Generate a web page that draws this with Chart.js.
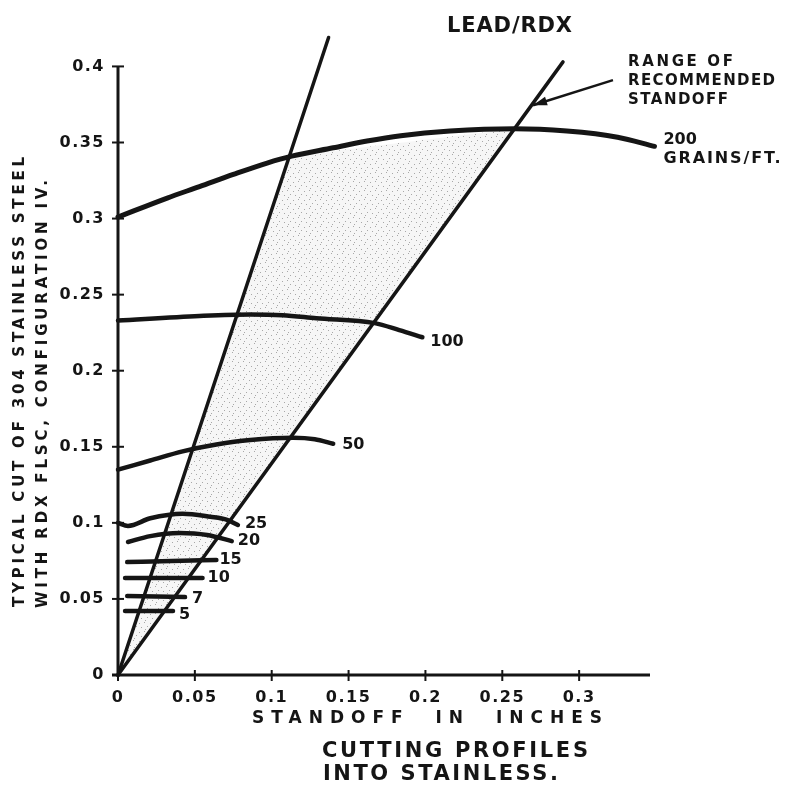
<!DOCTYPE html>
<html><head><meta charset="utf-8">
<script src="https://cdn.jsdelivr.net/npm/chart.js@4/dist/chart.umd.min.js"></script>
<style>html,body{margin:0;padding:0;background:#fff;}canvas{display:block}</style>
</head><body>
<canvas id="c" width="786" height="794"></canvas>
<script>
// ---- data ----
const xTicks = [0, 0.05, 0.1, 0.15, 0.2, 0.25, 0.3];
const yTicks = [0, 0.05, 0.1, 0.15, 0.2, 0.25, 0.3, 0.35, 0.4];

const curveLabels = ['200', '100', '50', '25', '20', '15', '10', '7', '5'];
const g200X = [0, 0.032, 0.053, 0.075, 0.097, 0.113, 0.140, 0.162, 0.184, 0.216, 0.258, 0.292, 0.325, 0.349];
const g200Y = [0.301, 0.3135, 0.321, 0.329, 0.3365, 0.341, 0.3465, 0.351, 0.3545, 0.3575, 0.359, 0.3575, 0.3535, 0.3475];
const g100X = [0, 0.053, 0.086, 0.107, 0.129, 0.167, 0.183, 0.198];
const g100Y = [0.233, 0.236, 0.237, 0.2365, 0.2345, 0.2313, 0.2267, 0.222];
const g50X = [0, 0.021, 0.042, 0.064, 0.086, 0.114, 0.128, 0.140];
const g50Y = [0.135, 0.141, 0.147, 0.1515, 0.1545, 0.156, 0.155, 0.152];
const g25X = [0, 0.0065, 0.021, 0.042, 0.060, 0.071, 0.078];
const g25Y = [0.100, 0.098, 0.103, 0.106, 0.104, 0.102, 0.0986];
const g20X = [0.0065, 0.021, 0.040, 0.058, 0.074];
const g20Y = [0.0874, 0.0913, 0.0933, 0.092, 0.088];
const g15X = [0.006, 0.035, 0.064];
const g15Y = [0.0742, 0.075, 0.0756];
const g10X = [0.0046, 0.055];
const g10Y = [0.0637, 0.0637];
const g7X = [0.006, 0.0436];
const g7Y = [0.0519, 0.0512];
const g5X = [0.0046, 0.0358];
const g5Y = [0.042, 0.042];

// bounds of recommended standoff range
const line1X = [0, 0.137];
const line1Y = [0, 0.419];
const line2X = [0, 0.2895];
const line2Y = [0, 0.403];
const shadeX = [0, 0.112, 0.258, 0];
const shadeY = [0, 0.341, 0.359, 0];
const arrowX = [0.322, 0.270];
const arrowY = [0.391, 0.3745];

// ---- styling / layout ----
const FONT = '"DejaVu Sans", sans-serif';
const INK = '#151515';
const pts = (xs, ys) => xs.map((x, i) => ({x, y: ys[i]}));
const fmt = v => v === 0 ? '0' : String(+v.toFixed(2));

const canvas = document.getElementById('c');
const ctx0 = canvas.getContext('2d');
function stipple() {
  const c = document.createElement('canvas'); c.width = 11; c.height = 9;
  const g = c.getContext('2d');
  g.fillStyle = 'rgba(0,0,0,0.035)'; g.fillRect(0, 0, 11, 9);
  g.fillStyle = 'rgba(70,70,70,0.45)';
  [[1,1],[7,2],[4,5],[9,6],[2,8]].forEach(([a,b]) => g.fillRect(a, b, 1, 1));
  return ctx0.createPattern(c, 'repeat');
}

const curveSeries = [
  [g200X, g200Y], [g100X, g100Y], [g50X, g50Y], [g25X, g25Y], [g20X, g20Y],
  [g15X, g15Y], [g10X, g10Y], [g7X, g7Y], [g5X, g5Y]
];
// label offsets in px from the end of each curve
const labelOffsets = {'200':[9,-6], '100':[8,5], '50':[9,1], '25':[7,-1], '20':[6,0], '15':[3,0], '10':[5,0], '7':[7,2], '5':[6,4]};

const datasets = [];
curveSeries.forEach(([xs, ys], i) => datasets.push({
  label: curveLabels[i], data: pts(xs, ys), borderColor: INK, borderWidth: i === 0 ? 5 : 4.5,
  cubicInterpolationMode: 'monotone', pointRadius: 0, fill: false, clip: false, borderCapStyle: 'round'
}));
datasets.push({label: 'lo', data: pts(line1X, line1Y), borderColor: INK, borderWidth: 3.5, pointRadius: 0, fill: false, clip: false, borderCapStyle: 'round'});
datasets.push({label: 'hi', data: pts(line2X, line2Y), borderColor: INK, borderWidth: 3.5, pointRadius: 0, fill: false, clip: false, borderCapStyle: 'round'});
datasets.push({label: 'arrow', data: pts(arrowX, arrowY), borderColor: INK, borderWidth: 2.5, pointRadius: 0, fill: false, clip: false});
datasets.push({label: 'shade', data: pts(shadeX, shadeY), borderWidth: 0, borderColor: 'rgba(0,0,0,0)', backgroundColor: stipple(), pointRadius: 0, fill: 'shape', tension: 0});

function spaced(ctx, text, x, y, size, width) {
  ctx.font = `bold ${size}px ${FONT}`;
  ctx.letterSpacing = '0px';
  const w = ctx.measureText(text).width;
  const ls = width ? (width - w) / (text.length - 1) : 0;
  ctx.letterSpacing = ls + 'px';
  ctx.textAlign = 'left'; ctx.textBaseline = 'middle';
  ctx.fillText(text, x, y);
  ctx.letterSpacing = '0px';
}

const decor = {
  id: 'decor',
  beforeDraw(chart) { chart.ctx.letterSpacing = '1.5px'; },
  afterDatasetsDraw(chart) {
    const {ctx, scales: {x, y}} = chart;
    const X = v => x.getPixelForValue(v), Y = v => y.getPixelForValue(v);
    ctx.save();
    ctx.strokeStyle = INK; ctx.fillStyle = INK;
    // axes
    ctx.lineWidth = 3;
    ctx.beginPath(); ctx.moveTo(X(0), Y(0) + 2); ctx.lineTo(X(0), Y(yTicks[yTicks.length - 1])); ctx.stroke();
    ctx.beginPath(); ctx.moveTo(X(0) - 6, Y(0)); ctx.lineTo(x.right - 6, Y(0)); ctx.stroke();
    ctx.lineWidth = 2;
    yTicks.forEach(v => { ctx.beginPath(); ctx.moveTo(X(0) - 6, Y(v)); ctx.lineTo(X(0) + 6, Y(v)); ctx.stroke(); });
    xTicks.forEach(v => { ctx.beginPath(); ctx.moveTo(X(v), Y(0) - 5); ctx.lineTo(X(v), Y(0) + 6); ctx.stroke(); });
    // arrow head
    const hx = X(arrowX[1]), hy = Y(arrowY[1]);
    const ang = Math.atan2(hy - Y(arrowY[0]), hx - X(arrowX[0]));
    ctx.beginPath();
    ctx.moveTo(hx, hy);
    ctx.lineTo(hx - 14 * Math.cos(ang) + 4.5 * Math.sin(ang), hy - 14 * Math.sin(ang) - 4.5 * Math.cos(ang));
    ctx.lineTo(hx - 14 * Math.cos(ang) - 4.5 * Math.sin(ang), hy - 14 * Math.sin(ang) + 4.5 * Math.cos(ang));
    ctx.closePath(); ctx.fill();
    // curve labels
    curveSeries.forEach(([xs, ys], i) => {
      const lab = curveLabels[i];
      const px = X(xs[xs.length - 1]), py = Y(ys[ys.length - 1]);
      const [dx, dy] = labelOffsets[lab];
      spaced(ctx, lab, px + dx, py + dy, 16, 0);
      if (lab === '200') spaced(ctx, 'GRAINS/FT.', px + dx, py + dy + 19, 16, 117);
    });
    // titles & notes
    spaced(ctx, 'LEAD/RDX', 447, 27, 21, 125);
    spaced(ctx, 'RANGE OF', 628, 62, 15, 105);
    spaced(ctx, 'RECOMMENDED', 628, 81, 15, 147);
    spaced(ctx, 'STANDOFF', 628, 100, 15, 100);
    spaced(ctx, 'STANDOFF  IN  INCHES', 252, 719, 17, 350);
    spaced(ctx, 'CUTTING PROFILES', 322, 752, 21, 266);
    spaced(ctx, 'INTO STAINLESS.', 323, 775, 21, 235);
    // y axis title
    ctx.save(); ctx.translate(20, 382); ctx.rotate(-Math.PI / 2);
    spaced(ctx, 'TYPICAL CUT OF 304 STAINLESS STEEL', -225, 0, 15, 450);
    ctx.restore();
    ctx.save(); ctx.translate(43, 394); ctx.rotate(-Math.PI / 2);
    spaced(ctx, 'WITH RDX FLSC, CONFIGURATION IV.', -214, 0, 15, 428);
    ctx.restore();
    ctx.restore();
    ctx.letterSpacing = '1.5px';
  }
};

const tickFont = {family: FONT, size: 16, weight: 'bold'};
new Chart(canvas, {
  type: 'line',
  data: {datasets},
  options: {
    responsive: false, animation: false, devicePixelRatio: 1,
    layout: {padding: {left: 0, right: 130, top: 36, bottom: 0}},
    plugins: {legend: {display: false}, tooltip: {enabled: false}},
    scales: {
      x: {
        type: 'linear', min: 0, max: 0.35,
        grid: {display: false}, border: {display: false},
        afterBuildTicks: s => { s.ticks = xTicks.map(v => ({value: v})); },
        afterFit: s => { s.height = 119; },
        ticks: {font: tickFont, color: INK, padding: 5, maxRotation: 0, autoSkip: false, callback: v => fmt(v)}
      },
      y: {
        type: 'linear', min: 0, max: 0.42,
        grid: {display: false}, border: {display: false},
        afterBuildTicks: s => { s.ticks = yTicks.map(v => ({value: v})); },
        afterFit: s => { s.width = 118; },
        ticks: {font: tickFont, color: INK, padding: 5, autoSkip: false, callback: v => fmt(v)}
      }
    }
  },
  plugins: [decor]
});
</script>
</body></html>
